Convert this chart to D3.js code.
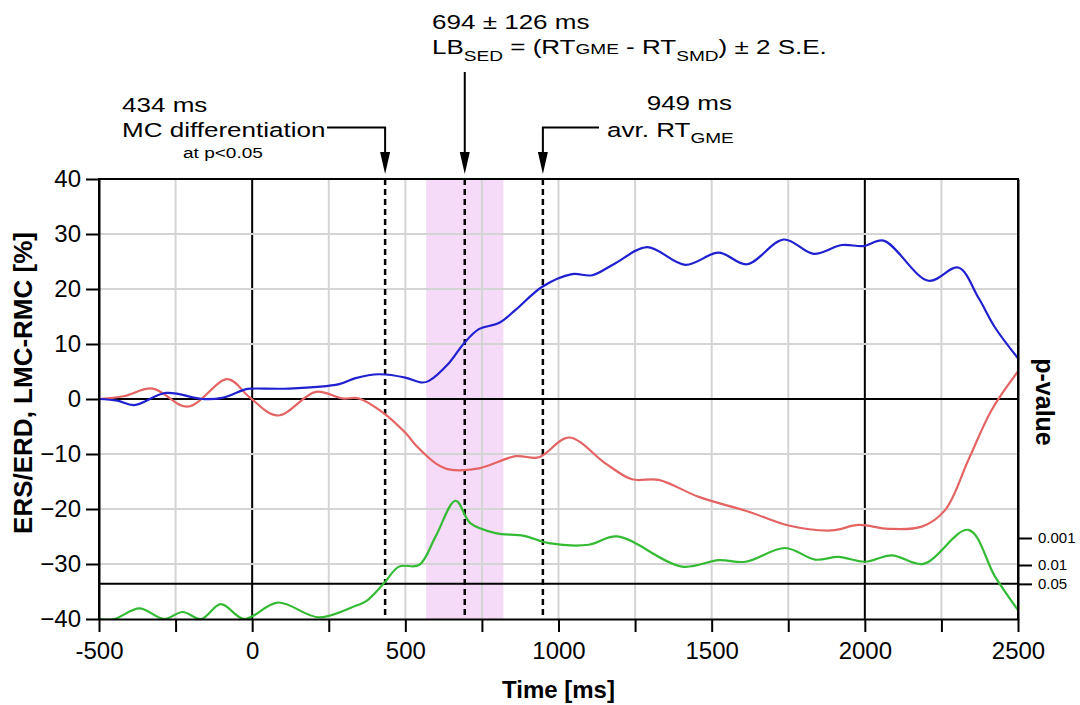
<!DOCTYPE html>
<html>
<head>
<meta charset="utf-8">
<script src="https://cdn.jsdelivr.net/npm/d3@7"></script>
<style>
  body { margin: 0; background: #fff; }
  text { font-family: "Liberation Sans", Arial, sans-serif; }
</style>
</head>
<body>
<div class="chart"></div>
<script>
const width = 1080;
const height = 705;

// blue curve: ERS/ERD
const blueTime = [-500, -440, -385, -281, -163, -98, -20, 0, 120, 284, 338, 414, 500, 555, 577, 642, 691, 740, 805, 860, 947, 1044, 1110, 1186, 1289, 1414, 1523, 1615, 1735, 1833, 1925, 1996, 2061, 2208, 2305, 2371, 2425, 2500];
const blueVals = [0, -0.3, -1.1, 1.1, 0, 0.2, 1.8, 1.9, 1.9, 2.7, 3.8, 4.5, 3.9, 3.0, 3.3, 6.5, 10.1, 12.7, 13.8, 16.2, 20.4, 22.7, 22.5, 24.7, 27.6, 24.4, 26.6, 24.5, 29.0, 26.4, 28.0, 27.8, 28.8, 21.5, 23.9, 18.4, 13.0, 7.4];

// red curve: LMC-RMC
const redTime = [-500, -420, -325, -211, -80, -10, 83, 208, 294, 349, 430, 501, 539, 599, 642, 740, 860, 936, 1034, 1153, 1240, 1327, 1458, 1621, 1751, 1892, 1979, 2077, 2186, 2262, 2338, 2414, 2500];
const redVals = [0, 0.5, 1.9, -1.4, 3.6, 0.4, -3.0, 1.3, 0.1, 0.1, -2.6, -6.2, -8.7, -11.7, -12.8, -12.6, -10.4, -10.6, -7.0, -11.7, -14.6, -14.7, -17.8, -20.5, -23.0, -23.9, -22.9, -23.6, -23.2, -20.2, -11.1, -2.0, 5.0];

// green curve: p-value as -log10(p)
const greenTime = [-500, -450, -368, -287, -227, -167, -102, -26, 83, 218, 338, 371, 430, 479, 545, 599, 664, 713, 795, 887, 968, 1099, 1191, 1403, 1523, 1610, 1740, 1838, 1914, 2001, 2088, 2191, 2338, 2425, 2500];
const greenLogP = [0, 0, 0.39, 0, 0.26, 0, 0.55, 0, 0.61, 0.06, 0.49, 0.65, 1.32, 1.94, 2.0, 3.06, 4.38, 3.54, 3.18, 3.08, 2.81, 2.75, 3.06, 1.94, 2.18, 2.12, 2.63, 2.2, 2.3, 2.12, 2.36, 2.04, 3.3, 1.57, 0.33];

const xTicks = d3.range(-500, 2501, 250);
const xLabels = [-500, 0, 500, 1000, 1500, 2000, 2500];
const yTicks = d3.range(-40, 41, 10);
const pTicks = [0.001, 0.01, 0.05];
const pLabels = ['0.001', '0.01', '0.05'];

const eventTimes = [434, 694, 949];
const bandRange = [694 - 126, 694 + 126];

const svg = d3.select('.chart')
  .append('svg')
  .attr('width', width)
  .attr('height', height);

const xScale = d3.scaleLinear().domain([-500, 2500]).range([99, 1018]);
const yScale = d3.scaleLinear().domain([-40, 40]).range([619, 179]);
// right axis: -log10(p), 27 px per decade
const pScale = d3.scaleLinear().domain([0, 440 / 27]).range([619, 179]);

svg.append('clipPath').attr('id', 'plot-clip')
  .append('rect')
  .attr('x', 99).attr('y', 179).attr('width', 919).attr('height', 441);

// shaded band
svg.append('rect')
  .attr('x', xScale(bandRange[0]))
  .attr('y', yScale(40))
  .attr('width', xScale(bandRange[1]) - xScale(bandRange[0]))
  .attr('height', yScale(-40) - yScale(40))
  .style('fill', '#f6dbf8');

// grid
svg.append('g')
  .selectAll('line')
  .data(xTicks.slice(1, -1))
  .enter()
  .append('line')
  .attr('x1', (d) => xScale(d)).attr('x2', (d) => xScale(d))
  .attr('y1', yScale(40)).attr('y2', yScale(-40))
  .style('stroke', (d) => (d === 0 || d === 2000 ? '#000' : '#d4d4d4'))
  .style('stroke-width', 2);

svg.append('g')
  .selectAll('line')
  .data(yTicks.slice(1, -1))
  .enter()
  .append('line')
  .attr('x1', xScale(-500)).attr('x2', xScale(2500))
  .attr('y1', (d) => yScale(d)).attr('y2', (d) => yScale(d))
  .style('stroke', (d) => (d === 0 ? '#000' : '#d4d4d4'))
  .style('stroke-width', 2);

// p = 0.05 threshold line
svg.append('line')
  .attr('x1', xScale(-500)).attr('x2', xScale(2500))
  .attr('y1', pScale(-Math.log10(0.05))).attr('y2', pScale(-Math.log10(0.05)))
  .style('stroke', '#000')
  .style('stroke-width', 2);

// dashed event lines
svg.append('g')
  .selectAll('line')
  .data(eventTimes)
  .enter()
  .append('line')
  .attr('x1', (d) => xScale(d)).attr('x2', (d) => xScale(d))
  .attr('y1', yScale(40)).attr('y2', yScale(-40))
  .style('stroke', '#000')
  .style('stroke-width', 2.5)
  .style('stroke-dasharray', '6,4');

// curves
const plot = svg.append('g').attr('clip-path', 'url(#plot-clip)');

const drawCurve = (times, vals, scale, color) => {
  const line = d3.line()
    .x((d, i) => xScale(times[i]))
    .y((d) => scale(d))
    .curve(d3.curveCatmullRom.alpha(0.5));
  plot.append('path')
    .datum(vals)
    .attr('d', line)
    .style('fill', 'none')
    .style('stroke', color)
    .style('stroke-width', 2.2);
};

drawCurve(greenTime, greenLogP, pScale, '#33bb33');
drawCurve(redTime, redVals, yScale, '#e46464');
drawCurve(blueTime, blueVals, yScale, '#2020d0');

// frame
svg.append('path')
  .attr('d', `M${xScale(-500)},${yScale(-40)}V${yScale(40)}H${xScale(2500)}V${yScale(-40)}`)
  .style('fill', 'none')
  .style('stroke', '#000')
  .style('stroke-width', 2);

// axes
const xAxis = d3.axisBottom(xScale)
  .tickValues(xTicks)
  .tickSize(13)
  .tickSizeOuter(0)
  .tickPadding(10)
  .tickFormat((d) => (xLabels.includes(d) ? d : ''));

svg.append('g')
  .attr('id', 'x-axis')
  .attr('transform', `translate(0, ${yScale(-40)})`)
  .call(xAxis);

const yAxis = d3.axisLeft(yScale)
  .tickValues(yTicks)
  .tickSize(13)
  .tickSizeOuter(0)
  .tickPadding(5);

svg.append('g')
  .attr('id', 'y-axis')
  .attr('transform', `translate(${xScale(-500)}, 0)`)
  .call(yAxis);

const pAxis = d3.axisRight(pScale)
  .tickValues(pTicks.map((p) => -Math.log10(p)))
  .tickSize(14)
  .tickSizeOuter(0)
  .tickPadding(6)
  .tickFormat((d, i) => pLabels[i]);

svg.append('g')
  .attr('id', 'p-axis')
  .attr('transform', `translate(${xScale(2500)}, 0)`)
  .call(pAxis);

svg.selectAll('.domain').style('stroke', '#000').style('stroke-width', 2);
svg.selectAll('.tick line').style('stroke', '#000').style('stroke-width', 2);
svg.selectAll('#x-axis text, #y-axis text')
  .style('font-size', '24px')
  .style('fill', '#000');
svg.selectAll('#p-axis text')
  .style('font-size', '15px')
  .style('fill', '#000');

// axis titles
svg.append('text')
  .attr('x', (xScale(-500) + xScale(2500)) / 2)
  .attr('y', 698)
  .attr('text-anchor', 'middle')
  .style('font-size', '24px')
  .style('font-weight', 'bold')
  .text('Time [ms]');

svg.append('text')
  .attr('transform', `translate(32, ${yScale(0) - 16}) rotate(-90)`)
  .attr('text-anchor', 'middle')
  .style('font-size', '26px')
  .style('font-weight', 'bold')
  .text('ERS/ERD, LMC-RMC [%]');

svg.append('text')
  .attr('transform', `translate(1036, ${yScale(0) + 3}) rotate(90)`)
  .attr('text-anchor', 'middle')
  .style('font-size', '25px')
  .style('font-weight', 'bold')
  .text('p-value');

// annotations (wide lettering as in the original)
const arrowHead = (x) => {
  svg.append('path')
    .attr('d', `M${x - 5},152L${x + 5},152L${x},174Z`)
    .style('fill', '#000');
};

const annotText = (x, y, size) => svg.append('text')
  .attr('transform', `translate(${x}, ${y}) scale(1.27, 1)`)
  .style('font-size', `${size}px`)
  .style('fill', '#000');

// 434 ms
const x434 = xScale(eventTimes[0]);
annotText(122, 112, 20.5).text('434 ms');
annotText(122, 137, 20.5).text('MC differentiation');
annotText(183, 158, 15).text('at p<0.05');
svg.append('path')
  .attr('d', `M327,127.5H${x434}V160`)
  .style('fill', 'none').style('stroke', '#000').style('stroke-width', 2);
arrowHead(x434);

// 694 ms
const x694 = xScale(eventTimes[1]);
annotText(432, 29, 20.5).text('694 ± 126 ms');
const lb = annotText(432, 54, 20.5);
lb.append('tspan').text('LB');
lb.append('tspan').attr('dy', 7).style('font-size', '15px').text('SED');
lb.append('tspan').attr('dy', -7).text(' = (RT');
lb.append('tspan').style('font-size', '15px').text('GME');
lb.append('tspan').text(' - RT');
lb.append('tspan').attr('dy', 7).style('font-size', '15px').text('SMD');
lb.append('tspan').attr('dy', -7).text(') ± 2 S.E.');
svg.append('path')
  .attr('d', `M${x694},72V160`)
  .style('fill', 'none').style('stroke', '#000').style('stroke-width', 2);
arrowHead(x694);

// 949 ms
const x949 = xScale(eventTimes[2]);
annotText(732, 110, 20.5).attr('text-anchor', 'end').text('949 ms');
const avr = annotText(607, 137, 20.5);
avr.append('tspan').text('avr. RT');
avr.append('tspan').attr('dy', 6).style('font-size', '15px').text('GME');
svg.append('path')
  .attr('d', `M599,127.5H${x949}V160`)
  .style('fill', 'none').style('stroke', '#000').style('stroke-width', 2);
arrowHead(x949);
</script>
</body>
</html>
